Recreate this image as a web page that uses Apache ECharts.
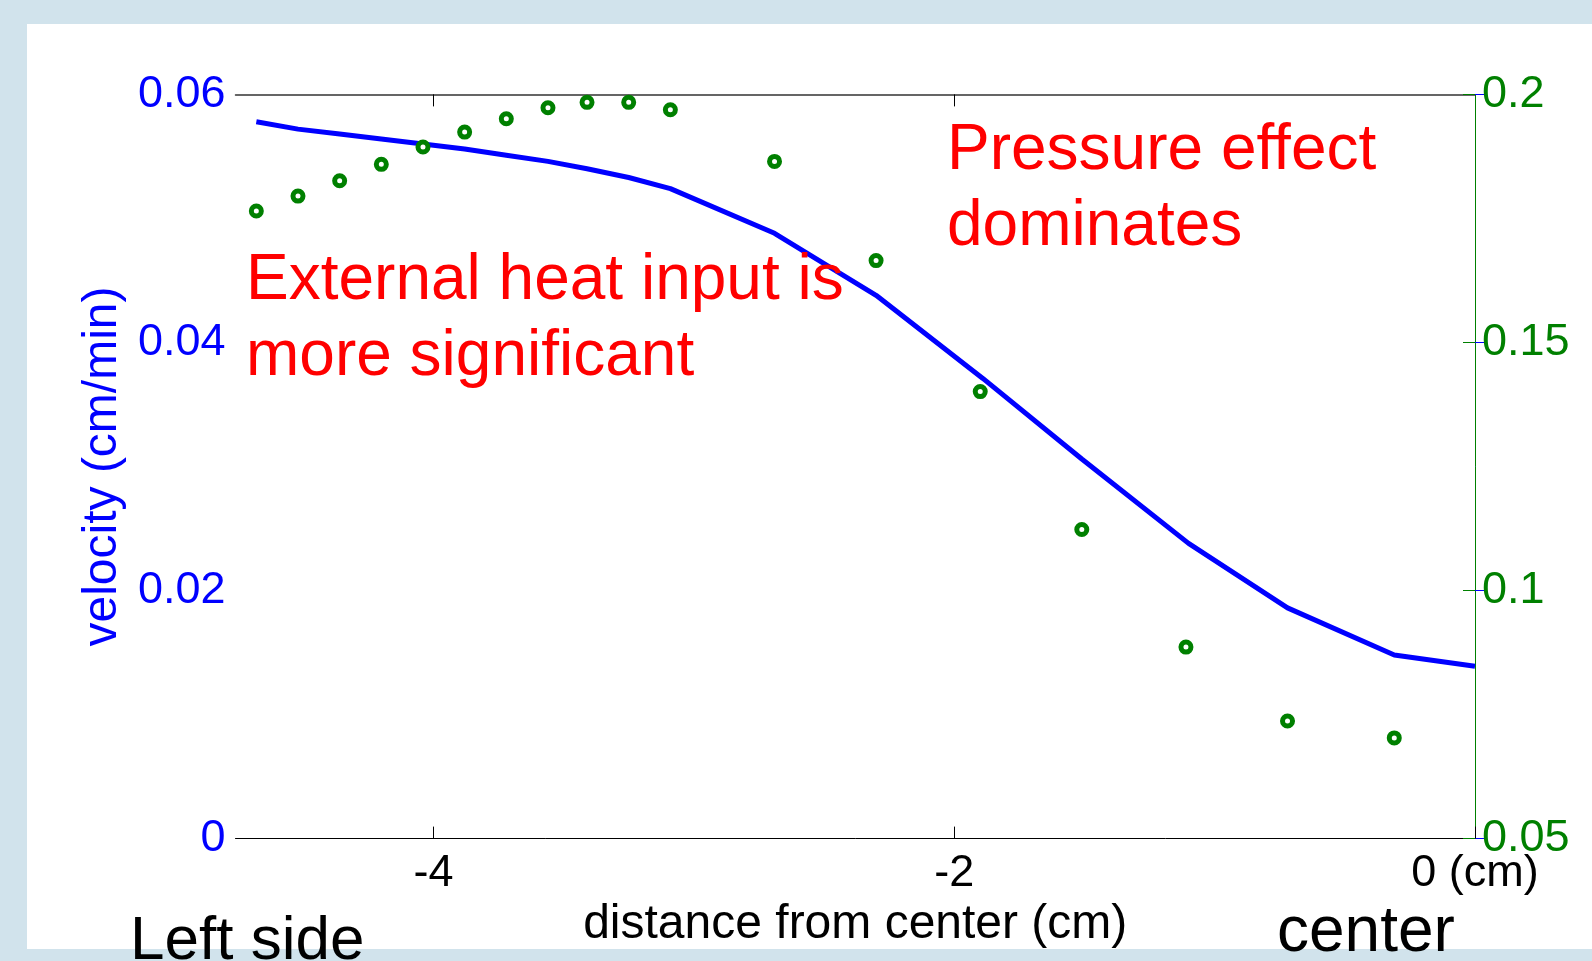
<!DOCTYPE html>
<html>
<head>
    <meta charset="utf-8" />
    <title>velocity</title>
    <script src="https://cdn.jsdelivr.net/npm/echarts@6/dist/echarts.min.js"></script>
    <style>
        html, body { margin: 0; padding: 0; }
        #chart { width: 1592px; height: 961px; }
    </style>
</head>
<body>
    <div id="chart"></div>
<script>
    // sample positions (cm from center)
    var distance = [-4.68, -4.52, -4.36, -4.20, -4.04, -3.88, -3.72, -3.56, -3.41, -3.25, -3.09,
        -2.69, -2.30, -1.90, -1.51, -1.11, -0.72, -0.31];
    // blue curve, left axis (cm/min); last point sits on the center line
    var velocityX = [-4.68, -4.52, -4.36, -4.20, -4.04, -3.88, -3.72, -3.56, -3.41, -3.25, -3.09,
        -2.69, -2.30, -1.89, -1.51, -1.10, -0.72, -0.31, 0];
    var velocity = [0.0578, 0.0572, 0.0568, 0.0564, 0.0560, 0.0556, 0.0551, 0.0546, 0.0540, 0.0533, 0.0524,
        0.0488, 0.0438, 0.0371, 0.0306, 0.0238, 0.0186, 0.0148, 0.0139];
    // green circles, right axis
    var rightValues = [0.1765, 0.1795, 0.1826, 0.1859, 0.1894, 0.1924, 0.1951, 0.1973, 0.1984, 0.1984, 0.1969,
        0.1865, 0.1665, 0.1401, 0.1123, 0.0886, 0.0737, 0.0703];
    var xTicks = [-4, -2, 0];

    var font = "'Liberation Sans', Arial, sans-serif";

    function pairs(xs, ys) {
        var out = [];
        for (var i = 0; i < xs.length; i++) out.push([xs[i], ys[i]]);
        return out;
    }

    function note(text, x, y, size, color) {
        return { type: 'text', z: 100, style: { text: text, x: x, y: y, font: size + 'px ' + font, fill: color, verticalAlign: 'middle' } };
    }

    var myChart = echarts.init(document.getElementById('chart'));

    var option = {
        animation: false,
        backgroundColor: '#d1e3ec',
        grid: { left: 235.5, right: 117, top: 94.4, bottom: 122.4 },
        graphic: [
            { type: 'rect', z: -100, shape: { x: 27, y: 24, width: 1565, height: 925 }, style: { fill: '#fff' } },
            note('External heat input is', 246, 281, 64, '#ff0000'),
            note('more significant', 246, 357, 64, '#ff0000'),
            note('Pressure effect', 947, 151, 64, '#ff0000'),
            note('dominates', 947, 227, 64, '#ff0000'),
            note('Left side', 130, 942, 62, '#000'),
            note('center', 1277, 933, 64, '#000')
        ],
        xAxis: [
            {
                type: 'value', min: -4.76, max: 0, position: 'bottom',
                name: 'distance from center (cm)', nameLocation: 'middle', nameGap: 54,
                nameTextStyle: { color: '#000', fontSize: 48, fontFamily: font },
                axisLine: { lineStyle: { color: '#000', width: 1 } },
                axisTick: { inside: true, length: 12, customValues: xTicks, lineStyle: { color: '#000' } },
                axisLabel: {
                    customValues: xTicks, color: '#000', fontSize: 45, fontFamily: font, margin: 12,
                    formatter: function (v) { return v === 0 ? '0 (cm)' : String(v); }
                },
                splitLine: { show: false }
            },
            {
                type: 'value', min: -4.76, max: 0, position: 'top',
                axisLine: { lineStyle: { color: '#333', width: 1.5 } },
                axisTick: { inside: true, length: 12, customValues: [-4, -2], lineStyle: { color: '#000' } },
                axisLabel: { show: false },
                splitLine: { show: false }
            }
        ],
        yAxis: [
            {
                type: 'value', min: 0, max: 0.06, interval: 0.02, position: 'left',
                name: 'velocity (cm/min)', nameLocation: 'middle', nameGap: 108,
                nameTextStyle: { color: '#0000ff', fontSize: 48, fontFamily: font },
                axisLine: { show: true, lineStyle: { color: '#3333ff', width: 1 } },
                axisTick: { show: true, inside: true, length: 12, lineStyle: { color: '#0000ff' } },
                axisLabel: { color: '#0000ff', fontSize: 45, fontFamily: font, margin: 10 },
                splitLine: { show: false }
            },
            {
                type: 'value', min: 0.05, max: 0.2, interval: 0.05, position: 'right',
                axisLine: { show: true, lineStyle: { color: '#008000', width: 1 } },
                axisTick: { show: true, inside: true, length: 12, lineStyle: { color: '#008000' } },
                axisLabel: { color: '#008000', fontSize: 45, fontFamily: font, margin: 7 },
                splitLine: { show: false }
            }
        ],
        series: [
            {
                name: 'velocity', type: 'line', xAxisIndex: 0, yAxisIndex: 0,
                data: pairs(velocityX, velocity),
                showSymbol: false, smooth: false,
                lineStyle: { color: '#0000ff', width: 5 },
                z: 3
            },
            {
                name: 'right', type: 'scatter', xAxisIndex: 0, yAxisIndex: 1,
                data: pairs(distance, rightValues),
                symbol: 'circle', symbolSize: 10,
                itemStyle: { color: '#fff', borderColor: '#008000', borderWidth: 5, opacity: 1 },
                z: 4
            }
        ]
    };

    myChart.setOption(option);
</script>
</body>
</html>
